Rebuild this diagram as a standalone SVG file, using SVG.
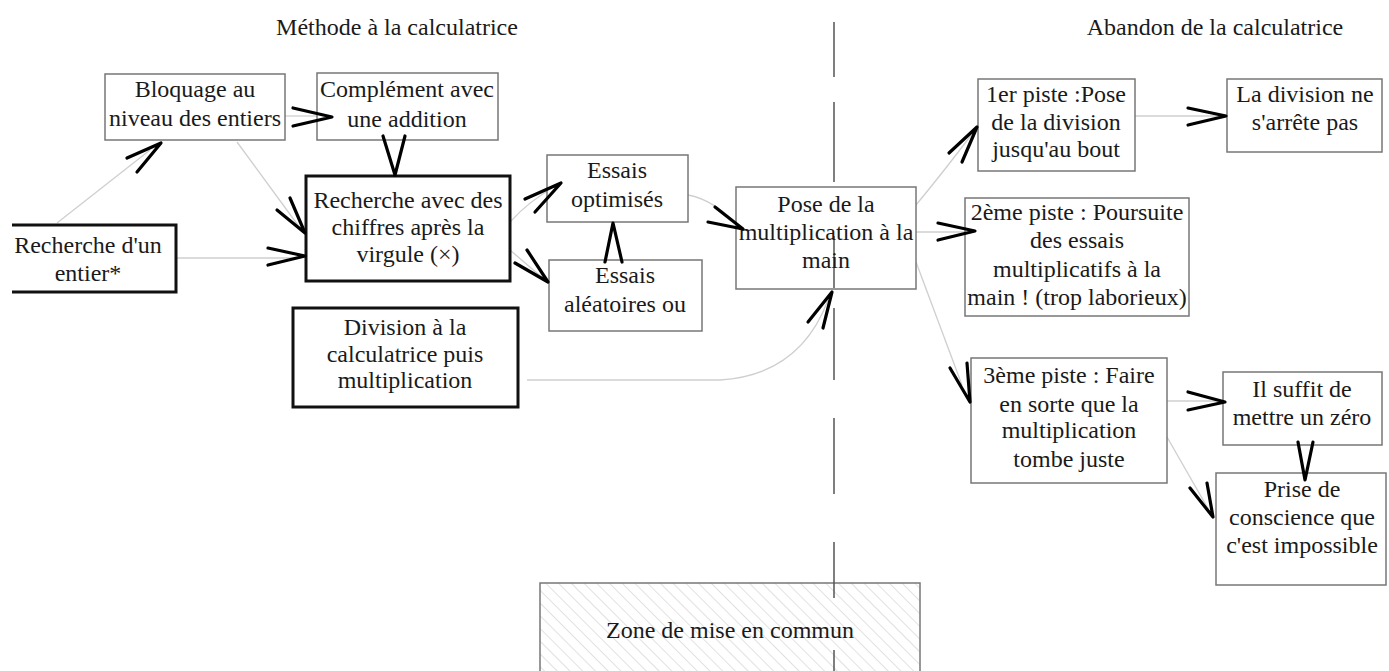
<svg xmlns="http://www.w3.org/2000/svg" width="1389" height="671" viewBox="0 0 1389 671">
<defs>
<pattern id="hatch" patternUnits="userSpaceOnUse" width="9" height="9" patternTransform="rotate(-45)">
<line x1="0" y1="0" x2="0" y2="9" stroke="#c4c4c4" stroke-width="1"/>
</pattern>
</defs>
<style>
text{font-family:"Liberation Serif","Times New Roman",serif;font-size:24px;fill:#1a1a1a;text-anchor:middle}
.thin{fill:#fff;stroke:#777;stroke-width:1.5}
.thick{fill:#fff;stroke:#111;stroke-width:3}
.con{fill:none;stroke:#cfcfcf;stroke-width:1.3}
.ah{fill:none;stroke:#000;stroke-width:3.2;stroke-linecap:round;stroke-linejoin:round}
.dash{stroke:#555;stroke-width:1.5}
</style>
<rect width="1389" height="671" fill="#fff"/>
<g id="titles">
<text x="397" y="35" font-size="23">Méthode à la calculatrice</text>
<text x="1215" y="35" font-size="23">Abandon de la calculatrice</text>
</g>
<g id="zone">
<rect x="540" y="583" width="380" height="100" fill="url(#hatch)" stroke="#777" stroke-width="1.5"/>
<text x="730" y="638">Zone de mise en commun</text>
</g>
<g id="connectors">
<line class="con" x1="57" y1="223" x2="150" y2="150"/>
<line class="con" x1="285" y1="116" x2="317" y2="116"/>
<line class="con" x1="237" y1="142" x2="300" y2="228"/>
<line class="con" x1="176" y1="258" x2="300" y2="258"/>
<path class="con" d="M510 222 Q530 200 555 187"/>
<line class="con" x1="510" y1="250" x2="545" y2="280"/>
<path class="con" d="M688 195 Q715 200 740 228"/>
<path class="con" d="M527 380 L720 380 Q800 375 828 300"/>
<path class="con" d="M916 205 Q945 170 975 130"/>
<line class="con" x1="916" y1="232" x2="965" y2="232"/>
<line class="con" x1="916" y1="262" x2="962" y2="385"/>
<line class="con" x1="1135" y1="116" x2="1227" y2="116"/>
<line class="con" x1="1167" y1="401" x2="1222" y2="401"/>
<line class="con" x1="1167" y1="437" x2="1210" y2="512"/>
</g>
<g id="n-bloquage">
<rect class="thin" x="105" y="74" width="180" height="66"/>
<text x="195" y="97">Bloquage au</text>
<text x="195" y="126">niveau des entiers</text>
</g>
<g id="n-complement">
<rect class="thin" x="317" y="73" width="181" height="67"/>
<text x="407" y="97">Complément avec</text>
<text x="407" y="127">une addition</text>
</g>
<g id="n-recherche-virgule">
<rect class="thick" x="306" y="176" width="204" height="105"/>
<text x="408" y="208">Recherche avec des</text>
<text x="408" y="235">chiffres après la</text>
<text x="408" y="262">virgule (×)</text>
</g>
<g id="n-recherche-entier">
<path class="thick" d="M12 225 H176 V292 H12"/>
<text x="88" y="253">Recherche d'un</text>
<text x="88" y="281">entier*</text>
</g>
<g id="n-essais-opt">
<rect class="thin" x="547" y="155" width="141" height="67"/>
<text x="617" y="178">Essais</text>
<text x="617" y="207">optimisés</text>
</g>
<g id="n-essais-alea">
<rect class="thin" x="549" y="260" width="153" height="71"/>
<text x="625" y="283">Essais</text>
<text x="625" y="312">aléatoires ou</text>
</g>
<g id="n-division">
<rect class="thick" x="293" y="308" width="225" height="99"/>
<text x="405" y="335">Division à la</text>
<text x="405" y="362">calculatrice puis</text>
<text x="405" y="388">multiplication</text>
</g>
<g id="divider">
<line class="dash" x1="834" y1="22" x2="834" y2="77"/>
<line class="dash" x1="834" y1="102" x2="834" y2="182"/>
<line class="dash" x1="834" y1="308" x2="834" y2="380"/>
<line class="dash" x1="834" y1="418" x2="834" y2="494"/>
<line class="dash" x1="834" y1="542" x2="834" y2="598"/>
<line class="dash" x1="834" y1="650" x2="834" y2="671"/>
</g>
<g id="n-pose">
<rect class="thin" x="736" y="187" width="180" height="102"/>
<line class="dash" x1="834" y1="236" x2="834" y2="288"/>
<text x="826" y="212">Pose de la</text>
<text x="826" y="240">multiplication à la</text>
<text x="826" y="268">main</text>
</g>
<g id="n-piste1">
<rect class="thin" x="978" y="79" width="157" height="92"/>
<text x="1056" y="102">1er piste :Pose</text>
<text x="1056" y="130">de la division</text>
<text x="1056" y="157">jusqu'au bout</text>
</g>
<g id="n-division-ne">
<rect class="thin" x="1227" y="79" width="155" height="73"/>
<text x="1305" y="102">La division ne</text>
<text x="1305" y="130">s'arrête pas</text>
</g>
<g id="n-piste2">
<rect class="thin" x="965" y="198" width="224" height="118"/>
<text x="1077" y="220">2ème piste : Poursuite</text>
<text x="1077" y="248">des essais</text>
<text x="1077" y="277">multiplicatifs à la</text>
<text x="1077" y="305">main ! (trop laborieux)</text>
</g>
<g id="n-piste3">
<rect class="thin" x="971" y="358" width="196" height="125"/>
<text x="1069" y="383">3ème piste : Faire</text>
<text x="1069" y="412">en sorte que la</text>
<text x="1069" y="438">multiplication</text>
<text x="1069" y="467">tombe juste</text>
</g>
<g id="n-suffit">
<rect class="thin" x="1223" y="372" width="159" height="73"/>
<text x="1302" y="397">Il suffit de</text>
<text x="1302" y="425">mettre un zéro</text>
</g>
<g id="n-prise">
<rect class="thin" x="1216" y="473" width="170" height="112"/>
<text x="1302" y="497">Prise de</text>
<text x="1302" y="525">conscience que</text>
<text x="1302" y="553">c'est impossible</text>
</g>
<g id="arrowheads">
<polyline class="ah" points="127,158 161,143 137,172"/>
<polyline class="ah" points="293,108 332,117 293,126"/>
<polyline class="ah" points="383,136 395,175 405,136"/>
<polyline class="ah" points="277,210 305,233 290,198"/>
<polyline class="ah" points="268,248 305,256 268,265"/>
<polyline class="ah" points="525,199 561,183 535,212"/>
<polyline class="ah" points="515,263 548,282 527,250"/>
<polyline class="ah" points="605,262 613,223 622,262"/>
<polyline class="ah" points="715,207 743,229 708,222"/>
<polyline class="ah" points="808,322 832,292 823,328"/>
<polyline class="ah" points="949,153 977,127 962,162"/>
<polyline class="ah" points="938,223 975,231 938,240"/>
<polyline class="ah" points="950,368 970,402 967,363"/>
<polyline class="ah" points="1188,108 1226,116 1188,125"/>
<polyline class="ah" points="1188,392 1225,402 1188,410"/>
<polyline class="ah" points="1298,442 1305,480 1313,442"/>
<polyline class="ah" points="1190,488 1213,517 1207,483"/>
</g>
</svg>
